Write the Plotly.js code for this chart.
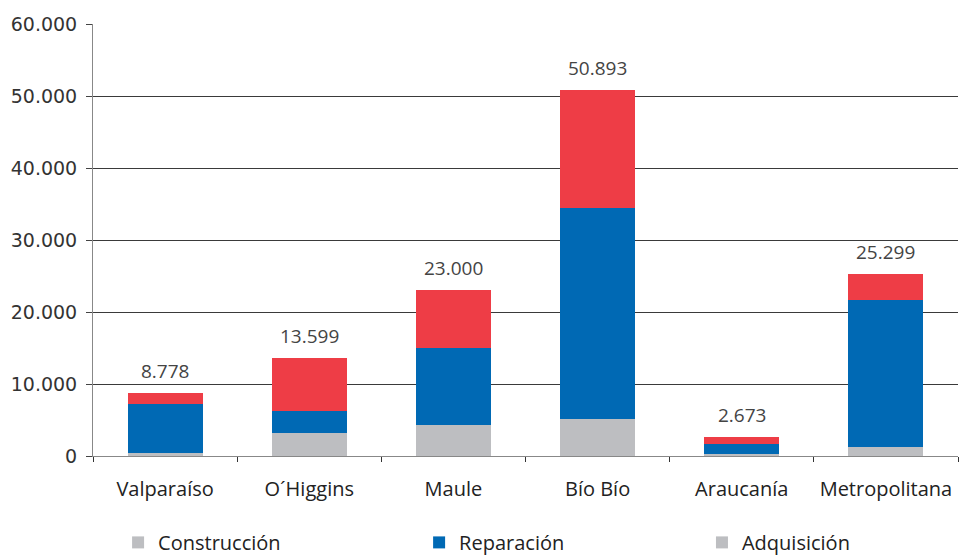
<!DOCTYPE html>
<html>
<head>
<meta charset="utf-8">
<script src="https://cdn.plot.ly/plotly-3.0.1.min.js"></script>
<style>html,body{margin:0;padding:0;background:#fff;}#chart{width:968px;height:556px;}</style>
</head>
<body>
<div id="chart"></div>
<script>
const regiones = ["Valparaíso", "O´Higgins", "Maule", "Bío Bío", "Araucanía", "Metropolitana"];
const construccion = [450, 3240, 4300, 5100, 300, 1200];
const reparacion = [6800, 3010, 10700, 29300, 1400, 20400];
const superior = [1528, 7349, 8000, 16493, 973, 3699];
const totales = ["8.778", "13.599", "23.000", "50.893", "2.673", "25.299"];
const yTicks = [0, 10000, 20000, 30000, 40000, 50000, 60000];
const yTickText = ["0", "10.000", "20.000", "30.000", "40.000", "50.000", "60.000"];

const GREY = "#bdbec1", BLUE = "#0069b4", RED = "#ee3d46";

const data = [
  {type: "bar", name: "Construcción", x: regiones, y: construccion, marker: {color: GREY}, hoverinfo: "skip", legend: "legend"},
  {type: "bar", name: "Reparación", x: regiones, y: reparacion, marker: {color: BLUE}, hoverinfo: "skip", legend: "legend2"},
  {type: "bar", name: "Total", x: regiones, y: superior, marker: {color: RED}, showlegend: false, hoverinfo: "skip"},
  {type: "bar", name: "Adquisición", x: [null], y: [null], marker: {color: GREY}, hoverinfo: "skip", legend: "legend3"}
];

const annotations = regiones.map((r, i) => ({
  x: r, y: construccion[i] + reparacion[i] + superior[i], xref: "x", yref: "y",
  text: totales[i], showarrow: false, yanchor: "bottom", yshift: 8, borderpad: 0,
  font: {family: "Open Sans", size: 19, color: "#444"}
}));

const legendBase = {orientation: "h", xanchor: "left", y: -0.2, yanchor: "middle",
  font: {family: "Open Sans", size: 20, color: "#222"}, bgcolor: "rgba(0,0,0,0)", borderwidth: 0};

const layout = {
  width: 968, height: 556,
  margin: {l: 93, r: 10, t: 24, b: 100, autoexpand: false},
  barmode: "stack",
  bargap: 0.48,
  paper_bgcolor: "#fff", plot_bgcolor: "#fff",
  showlegend: true,
  annotations: annotations,
  legend: Object.assign({}, legendBase, {x: 0.029}),
  legend2: Object.assign({}, legendBase, {x: 0.377}),
  legend3: Object.assign({}, legendBase, {x: 0.704}),
  xaxis: {
    type: "category", showgrid: false, showline: true, linecolor: "#888", linewidth: 1,
    ticks: "outside", tickson: "boundaries", ticklen: 5, tickcolor: "#333",
    tickfont: {family: "Open Sans", size: 20, color: "#222"}, ticklabelstandoff: 15,
    zeroline: false, fixedrange: true, automargin: false
  },
  yaxis: {
    range: [0, 60000], tickvals: yTicks, ticktext: yTickText,
    showgrid: true, gridcolor: "#3a3a3a", gridwidth: 1,
    showline: true, linecolor: "#888", linewidth: 1,
    ticks: "outside", ticklen: 6, tickcolor: "#444",
    tickfont: {family: "DejaVu Sans", size: 19, color: "#333"}, ticklabelstandoff: 5,
    zeroline: false, fixedrange: true, automargin: false
  }
};

Plotly.newPlot("chart", data, layout, {displayModeBar: false, staticPlot: true});
</script>
</body>
</html>
